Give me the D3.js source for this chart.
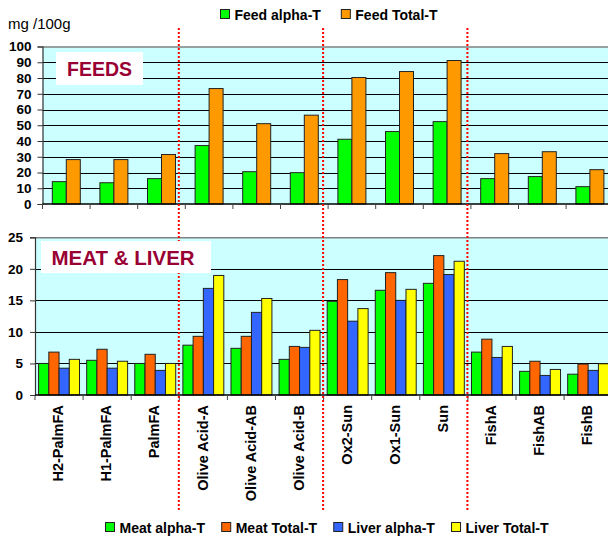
<!DOCTYPE html>
<html><head><meta charset="utf-8">
<script src="https://cdn.jsdelivr.net/npm/d3@7/dist/d3.min.js"></script>
<style>
html,body{margin:0;padding:0;background:#fff;}
svg{display:block;font-family:Arial,"Liberation Sans",sans-serif;}
</style></head>
<body><svg id="c" width="608" height="539"></svg>
<script>
const categories = ["H2-PalmFA","H1-PalmFA","PalmFA","Olive Acid-A","Olive Acid-AB","Olive Acid-B","Ox2-Sun","Ox1-Sun","Sun","FishA","FishAB","FishB"];
const feedAlpha = [14.2, 13.5, 16.1, 37.1, 20.5, 19.9, 41.1, 46.0, 52.3, 16.1, 17.4, 11.0];
const feedTotal = [28.2, 28.2, 31.4, 73.3, 51.0, 56.4, 80.3, 84.1, 91.1, 32.0, 33.2, 21.8];
const meatAlpha = [5.0, 5.5, 5.0, 7.9, 7.4, 5.65, 14.85, 16.6, 17.7, 6.8, 3.75, 3.3];
const meatTotal = [6.8, 7.25, 6.45, 9.3, 9.3, 7.7, 18.3, 19.4, 22.1, 8.85, 5.35, 4.9];
const liverAlpha = [4.25, 4.25, 3.9, 16.9, 13.1, 7.55, 11.7, 15.0, 19.1, 5.95, 3.1, 3.9];
const liverTotal = [5.65, 5.35, 5.0, 18.95, 15.3, 10.25, 13.7, 16.75, 21.2, 7.7, 4.05, 4.95];
const feedSeriesNames = ["Feed alpha-T", "Feed Total-T"];
const meatSeriesNames = ["Meat alpha-T", "Meat Total-T", "Liver alpha-T", "Liver Total-T"];
const feedTicks = [0,10,20,30,40,50,60,70,80,90,100];
const meatTicks = [0,5,10,15,20,25];
const groupBreaks = [3, 6, 9];

const feedColors = ["#00FF00", "#FF9900"];
const meatColors = ["#00FF00", "#FF6600", "#3366FF", "#FFFF00"];

(function () {
const svg = d3.select("#c");
const W = 608;

function panel(cfg) {
  const g = svg.append("g");
  const x = d3.scaleBand().domain(categories).range([cfg.x0, cfg.x0 + cfg.step * categories.length]);
  const y = d3.scaleLinear().domain([0, cfg.max]).range([cfg.yBottom, cfg.yTop]);
  const sub = d3.scaleBand().domain(d3.range(cfg.series.length)).range([0, x.bandwidth()]).paddingOuter(cfg.outer).paddingInner(0);
  g.append("rect").attr("x", cfg.x0).attr("y", cfg.yTop).attr("width", W - cfg.x0).attr("height", cfg.yBottom - cfg.yTop).attr("fill", "#CCFFFF");
  g.append("line").attr("x1", cfg.x0).attr("x2", W).attr("y1", cfg.yTop + 0.5).attr("y2", cfg.yTop + 0.5).attr("stroke", "#808080").attr("stroke-width", 1.5);
  g.selectAll(null).data(cfg.ticks.filter(t => t > 0 && t < cfg.max)).enter().append("line")
    .attr("x1", cfg.x0).attr("x2", W).attr("y1", d => Math.round(y(d)) + 0.5).attr("y2", d => Math.round(y(d)) + 0.5)
    .attr("stroke", "#000").attr("stroke-width", 1);
  cfg.series.forEach((vals, si) => {
    g.selectAll(null).data(vals).enter().append("rect")
      .attr("x", (d, i) => x(categories[i]) + sub(si))
      .attr("y", d => y(d))
      .attr("width", sub.bandwidth())
      .attr("height", d => y(0) - y(d))
      .attr("fill", cfg.colors[si]).attr("stroke", "#222").attr("stroke-width", 1);
  });
  const ya = d3.axisLeft(y).tickValues(cfg.ticks).tickSize(5).tickPadding(cfg.tickPad).tickFormat(d3.format("d"));
  const yg = g.append("g").attr("transform", `translate(${cfg.x0},0)`).call(ya);
  yg.select(".domain").attr("stroke", "#333").attr("stroke-width", 1.2);
  yg.selectAll(".tick line").attr("stroke", "#333");
  yg.selectAll(".tick text").attr("font-size", "13.5px").attr("font-weight", "bold").attr("fill", "#000").attr("font-family", "Arial, 'Liberation Sans', sans-serif");
  const boundaries = d3.range(categories.length + 1).map(i => cfg.x0 + cfg.step * i);
  g.append("line").attr("x1", cfg.x0).attr("x2", W).attr("y1", cfg.yBottom).attr("y2", cfg.yBottom).attr("stroke", "#000").attr("stroke-width", 1.5);
  g.selectAll(null).data(boundaries).enter().append("line")
    .attr("x1", d => d).attr("x2", d => d).attr("y1", cfg.yBottom).attr("y2", cfg.yBottom + 5)
    .attr("stroke", "#444").attr("stroke-width", 1);
  return {x, y, g};
}

const topPanel = panel({x0: 42.5, step: 47.6, yTop: 46.5, yBottom: 204, max: 100, ticks: feedTicks,
  series: [feedAlpha, feedTotal], colors: feedColors, outer: 0.7, tickPad: 6});
const bot = panel({x0: 35, step: 48.1, yTop: 237.3, yBottom: 395, max: 25, ticks: meatTicks,
  series: [meatAlpha, meatTotal, liverAlpha, liverTotal], colors: meatColors, outer: 0.35, tickPad: 7});

svg.selectAll(null).data(categories).enter().append("text")
  .attr("transform", d => `translate(${bot.x(d) + bot.x.bandwidth() / 2 - 1},405) rotate(-90)`)
  .attr("dy", "0.36em").attr("text-anchor", "end")
  .attr("font-size", "14.5px").attr("font-weight", "bold").attr("fill", "#000").text(d => d);

svg.selectAll(null).data(groupBreaks).enter().append("line")
  .attr("x1", d => bot.x(categories[d]) - 0.5).attr("x2", d => bot.x(categories[d]) - 0.5)
  .attr("y1", 28).attr("y2", 510)
  .attr("stroke", "#FF0000").attr("stroke-width", 2).attr("stroke-dasharray", "2,2");

svg.append("rect").attr("x", 56).attr("y", 52).attr("width", 87).attr("height", 33).attr("fill", "#fff");
svg.append("text").attr("x", 67).attr("y", 76).attr("font-size", "19.5px").attr("font-weight", "bold").attr("fill", "#990033").text("FEEDS");
svg.append("rect").attr("x", 41).attr("y", 241).attr("width", 170).attr("height", 32).attr("fill", "#fff");
svg.append("text").attr("x", 51.5).attr("y", 265).attr("font-size", "20.5px").attr("font-weight", "bold").attr("fill", "#990033").text("MEAT & LIVER");

svg.append("text").attr("x", 8).attr("y", 29).attr("font-size", "15px").attr("fill", "#000").text("mg /100g");

function legend(names, colors, x0, x1, base) {
  const lg = svg.append("g");
  const items = names.map((n, i) => {
    const t = lg.append("text").attr("y", base).attr("font-size", "14px").attr("font-weight", "bold").attr("fill", "#000").text(n);
    return {t, w: t.node().getComputedTextLength(), c: colors[i]};
  });
  const sq = 9, sg = 4;
  const total = d3.sum(items, d => d.w + sq + sg);
  const gap = names.length > 1 ? (x1 - x0 - total) / (names.length - 1) : 0;
  let cx = x0;
  items.forEach(it => {
    lg.append("rect").attr("x", cx + 0.5).attr("y", base - 10.5).attr("width", sq).attr("height", sq)
      .attr("fill", it.c).attr("stroke", "#222").attr("stroke-width", 1);
    it.t.attr("x", cx + sq + sg + 1.5);
    cx += sq + sg + it.w + gap;
  });
}
legend(feedSeriesNames, feedColors, 220, 436, 20);
legend(meatSeriesNames, meatColors, 105, 547, 533);
})();
</script></body></html>
